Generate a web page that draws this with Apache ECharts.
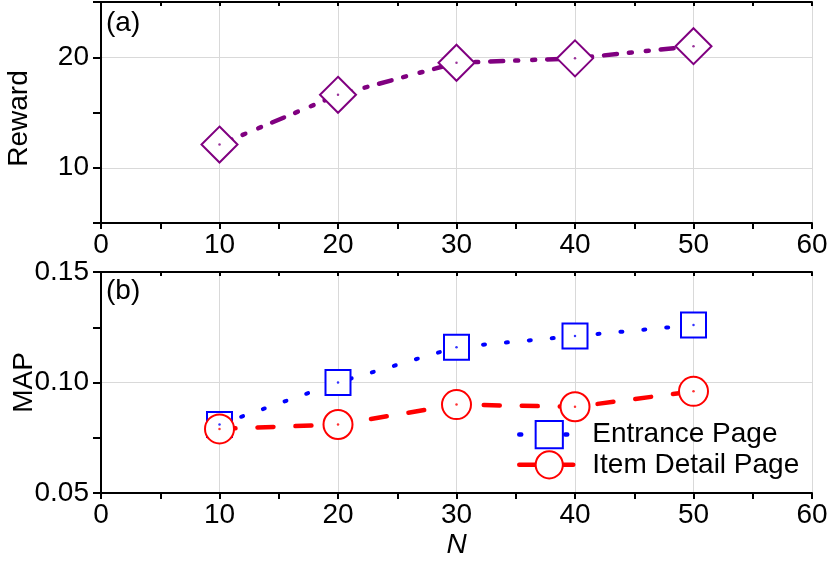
<!DOCTYPE html>
<html>
<head>
<meta charset="utf-8">
<script src="https://cdn.jsdelivr.net/npm/echarts@6/dist/echarts.min.js"></script>
<style>
  html, body { margin: 0; padding: 0; background: #fff; }
  #chart { width: 830px; height: 565px; }
</style>
</head>
<body>
<div id="chart"></div>
<script>
// data
var nValues = [10, 20, 30, 40, 50];
var reward = [12.1, 16.6, 19.5, 19.9, 21.0];
var mapEntrance = [0.081, 0.100, 0.116, 0.121, 0.126];
var mapDetail = [0.079, 0.081, 0.090, 0.089, 0.096];
var rewardLabels = [10, 20];

var FONT = "'Liberation Sans', Arial, sans-serif";
var PURPLE = '#800080';
var BLUE = '#0000ff';
var RED = '#ff0000';

function pairs(ys) {
  return nValues.map(function (x, i) { return [x, ys[i]]; });
}

var labelStyle = { color: '#000', fontSize: 28, fontFamily: FONT };
var axisLine = { show: true, lineStyle: { color: '#000', width: 2 } };
var gridLine = { show: true, lineStyle: { color: '#d9d9d9', width: 1 } };

// bottom x axis of a panel
function xBottom(gridIndex, name) {
  return {
    type: 'value', gridIndex: gridIndex, position: 'bottom',
    min: 0, max: 60, interval: 10,
    axisLine: axisLine,
    axisTick: { show: true, length: 6, lineStyle: { color: '#000', width: 2 } },
    minorTick: { show: true, splitNumber: 2, length: 6, lineStyle: { color: '#000', width: 2 } },
    axisLabel: Object.assign({ margin: 8 }, labelStyle),
    splitLine: gridLine,
    name: name || '',
    nameLocation: 'middle',
    nameGap: 38,
    nameMoveOverlap: false,
    nameTextStyle: { color: '#000', fontSize: 28, fontFamily: FONT, fontStyle: 'italic' }
  };
}
// mirrored top x axis, ticks only
function xTop(gridIndex) {
  return {
    type: 'value', gridIndex: gridIndex, position: 'top',
    min: 0, max: 60, interval: 10,
    axisLine: axisLine,
    axisTick: { show: true, inside: true, length: 4, lineStyle: { color: '#000', width: 2 } },
    minorTick: { show: true, splitNumber: 2, length: 4, lineStyle: { color: '#000', width: 2 } },
    axisLabel: { show: false },
    splitLine: { show: false }
  };
}

var option = {
  animation: false,
  backgroundColor: '#fff',
  textStyle: { fontFamily: FONT },
  grid: [
    { left: 101, right: 18, top: 2, height: 221, outerBoundsMode: 'none' },
    { left: 101, right: 18, top: 272, height: 221, outerBoundsMode: 'none' }
  ],
  graphic: [
    { type: 'text', left: 106, top: 9, style: { text: '(a)', fill: '#000', font: '28px ' + FONT } },
    { type: 'text', left: 106, top: 277, style: { text: '(b)', fill: '#000', font: '28px ' + FONT } }
  ],
  legend: {
    orient: 'vertical',
    left: 517,
    top: 420,
    padding: 0,
    itemWidth: 60,
    itemHeight: 34,
    itemGap: 1,
    data: ['Entrance Page', 'Item Detail Page'],
    lineStyle: { width: 4.5 },
    textStyle: { color: '#000', fontSize: 28, fontFamily: FONT, padding: [0, 0, 0, 8] }
  },
  xAxis: [xBottom(0), xTop(0), xBottom(1, 'N'), xTop(1)],
  yAxis: [
    {
      type: 'value', gridIndex: 0, position: 'left',
      min: 5, max: 25, interval: 5,
      axisLine: axisLine,
      axisTick: { show: true, length: 8, lineStyle: { color: '#000', width: 2 } },
      axisLabel: Object.assign({
        margin: 12,
        formatter: function (v) { return rewardLabels.indexOf(v) >= 0 ? String(v) : ''; }
      }, labelStyle),
      splitLine: { show: true, lineStyle: { color: ['rgba(0,0,0,0)', '#d9d9d9'], width: 1 } },
      name: 'Reward', nameLocation: 'middle', nameGap: 68, nameMoveOverlap: false,
      nameTextStyle: { color: '#000', fontSize: 28, fontFamily: FONT, padding: [0, 12, 0, 0] }
    },
    {
      type: 'value', gridIndex: 0, position: 'right',
      min: 5, max: 25, interval: 5,
      axisLine: axisLine,
      axisTick: { show: true, inside: true, length: 4, lineStyle: { color: '#000', width: 2 } },
      axisLabel: { show: false },
      splitLine: { show: false }
    },
    {
      type: 'value', gridIndex: 1, position: 'left',
      min: 0.05, max: 0.15, interval: 0.05,
      axisLine: axisLine,
      axisTick: { show: true, length: 8, lineStyle: { color: '#000', width: 2 } },
      minorTick: { show: true, splitNumber: 2, length: 8, lineStyle: { color: '#000', width: 2 } },
      axisLabel: Object.assign({
        margin: 12,
        formatter: function (v) { return v.toFixed(2); }
      }, labelStyle),
      splitLine: gridLine,
      name: 'MAP', nameLocation: 'middle', nameGap: 63, nameMoveOverlap: false,
      nameTextStyle: { color: '#000', fontSize: 28, fontFamily: FONT }
    },
    {
      type: 'value', gridIndex: 1, position: 'right',
      min: 0.05, max: 0.15, interval: 0.05,
      axisLine: axisLine,
      axisTick: { show: true, inside: true, length: 4, lineStyle: { color: '#000', width: 2 } },
      minorTick: { show: true, splitNumber: 2, length: 4, lineStyle: { color: '#000', width: 2 } },
      axisLabel: { show: false },
      splitLine: { show: false }
    }
  ],
  series: [
    {
      name: 'Reward', type: 'line', xAxisIndex: 0, yAxisIndex: 0,
      data: pairs(reward),
      symbol: 'diamond', symbolSize: 36,
      itemStyle: { color: '#fff', borderColor: PURPLE, borderWidth: 2 },
      lineStyle: { color: PURPLE, width: 4.5, type: [13, 12, 3, 14, 3, 12], cap: 'round' },
      z: 3
    },
    {
      name: 'Entrance Page', type: 'line', xAxisIndex: 2, yAxisIndex: 2,
      data: pairs(mapEntrance),
      symbol: 'rect', symbolSize: 25,
      itemStyle: { color: '#fff', borderColor: BLUE, borderWidth: 2 },
      lineStyle: { color: BLUE, width: 4, type: [2, 21], cap: 'round' },
      z: 3
    },
    {
      name: 'Item Detail Page', type: 'line', xAxisIndex: 2, yAxisIndex: 2,
      data: pairs(mapDetail),
      symbol: 'circle', symbolSize: 29,
      itemStyle: { color: '#fff', borderColor: RED, borderWidth: 2 },
      lineStyle: { color: RED, width: 4.5, type: [16, 22], cap: 'round' },
      z: 4
    },
    // small centre dots inside the markers
    {
      type: 'scatter', xAxisIndex: 0, yAxisIndex: 0, data: pairs(reward),
      symbol: 'circle', symbolSize: 2.5, itemStyle: { color: PURPLE }, z: 5, silent: true
    },
    {
      type: 'scatter', xAxisIndex: 2, yAxisIndex: 2, data: pairs(mapEntrance),
      symbol: 'circle', symbolSize: 2.5, itemStyle: { color: BLUE }, z: 5, silent: true
    },
    {
      type: 'scatter', xAxisIndex: 2, yAxisIndex: 2, data: pairs(mapDetail),
      symbol: 'circle', symbolSize: 2.5, itemStyle: { color: RED }, z: 6, silent: true
    }
  ]
};

var chart = echarts.init(document.getElementById('chart'), null, { renderer: 'canvas' });
chart.setOption(option);
</script>
</body>
</html>
